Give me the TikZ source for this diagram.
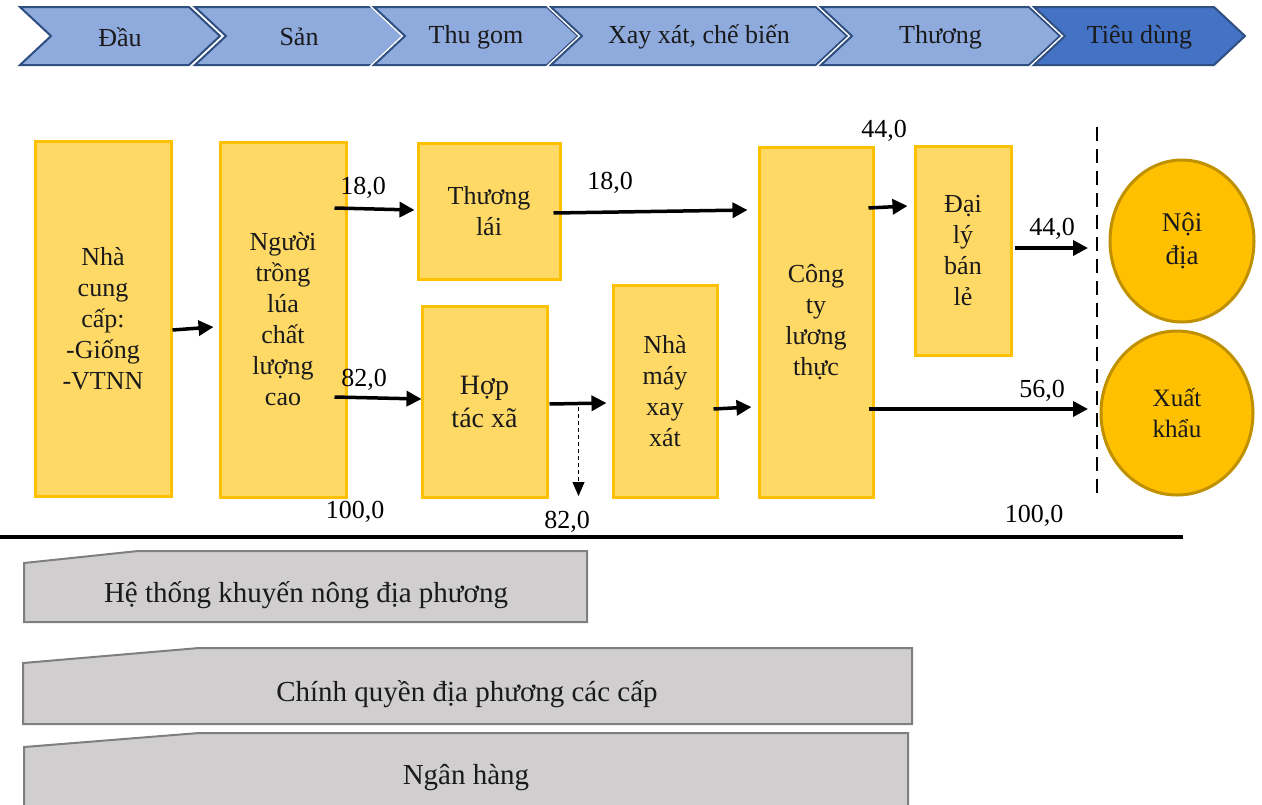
\documentclass[tikz,border=0pt]{standalone}
\usepackage{fontspec}
\setmainfont{Liberation Serif}
\usetikzlibrary{arrows.meta,shapes.geometric,calc}
\definecolor{chev}{HTML}{8FAADC}
\definecolor{chevdark}{HTML}{4472C4}
\definecolor{chevline}{HTML}{2F4F80}
\definecolor{yfill}{HTML}{FFD966}
\definecolor{yline}{HTML}{FFC000}
\definecolor{cfill}{HTML}{FFC000}
\definecolor{cline}{HTML}{BF9000}
\definecolor{gfill}{HTML}{D0CECE}
\definecolor{gline}{HTML}{7F7F7F}
\definecolor{txt}{HTML}{1A1A1A}
\begin{document}
\begin{tikzpicture}[x=1pt,y=-1pt,
  ybox/.style={draw=yline, fill=yfill, line width=3pt, align=center, inner sep=0pt, text=txt, font=\fontsize{26}{31}\selectfont},
  cnode/.style={ellipse, draw=cline, fill=cfill, line width=3pt, align=center, inner sep=0pt, text=txt},
  chevtxt/.style={text=txt, font=\fontsize{26}{31}\selectfont},
  lbl/.style={text=black, inner sep=0pt, font=\fontsize{26}{31}\selectfont},
  gtxt/.style={text=txt, inner sep=0pt, font=\fontsize{29}{34}\selectfont},
  arr/.style={line width=3.5pt, -{Triangle[length=15pt,width=15pt]}},
  darr/.style={line width=1pt, dashed, dash pattern=on 4pt off 3pt, -{Triangle[length=14pt,width=12pt]}},
  gbox/.style={fill=gfill, draw=gline, line width=2pt}
]
\useasboundingbox (0,0) rectangle (1262,804);

% top chevrons
\foreach \L/\T/\txt/\f [count=\i] in {20/220/Đầu/chev, 195/403/Sản/chev, 374/578/Thu gom/chev, 551/847/{Xay xát, chế biến}/chev, 821/1060/Thương/chev, 1034/1245/Tiêu dùng/chevdark}{
  \draw[white, line width=5pt, line join=miter] (\L,7) -- (\T-31,7) -- (\T,36) -- (\T-31,65) -- (\L,65) -- (\L+31,36) -- cycle;
  \filldraw[fill=\f, draw=chevline, line width=2pt, line join=miter] (\L,7) -- (\T-31,7) -- (\T,36) -- (\T-31,65) -- (\L,65) -- (\L+31,36) -- cycle;
  \node[chevtxt] (ch\i) at ({(\L+\T)/2},37) {\txt};
}

% yellow boxes
\node[ybox, minimum width=136pt, minimum height=355pt] (A) at (103,318.5) {Nhà\\cung\\cấp:\\-Giống\\-VTNN};
\node[ybox, minimum width=126pt, minimum height=355pt] (B) at (283,319.5) {Người\\trồng\\lúa\\chất\\lượng\\cao};
\node[ybox, minimum width=142pt, minimum height=136pt] (C) at (489,211) {Thương\\lái};
\node[ybox, minimum width=125pt, minimum height=191pt, font=\fontsize{28}{33}\selectfont] (D) at (484.5,401.5) {Hợp\\tác xã};
\node[ybox, minimum width=104pt, minimum height=212pt] (E) at (665,391) {Nhà\\máy\\xay\\xát};
\node[ybox, minimum width=114pt, minimum height=350pt] (F) at (816,322) {Công\\ty\\lương\\thực};
\node[ybox, minimum width=96pt, minimum height=209pt] (G) at (963,250.5) {Đại\\lý\\bán\\lẻ};

% consumer ellipses
\node[cnode, minimum width=144pt, minimum height=162pt, font=\fontsize{27}{33}\selectfont] (N) at (1182,241) {Nội\\địa};
\node[cnode, minimum width=152pt, minimum height=164pt, font=\fontsize{25}{31}\selectfont] (X) at (1177,413) {Xuất\\khẩu};

% dashed border
\coordinate (d1) at (1097,127);
\coordinate (d2) at (1097,496);
\draw[line width=2.5pt, dash pattern=on 14pt off 8pt] (d1) -- (d2);
\coordinate (t1) at (1088,248);
\coordinate (t2) at (1088,409);

% arrows
\draw[arr] (A.east |- 0,330) -- ([xshift=-5pt]B.west |- 0,327);
\draw[arr] ([xshift=-13pt]B.east |- 0,208) -- ([xshift=-2pt]C.west |- 0,210);
\draw[arr] ([xshift=-13pt]B.east |- 0,397) -- ([xshift=1pt]D.west |- 0,399);
\draw[arr] ([xshift=-8pt]C.east |- 0,213) -- ([xshift=-10pt]F.west |- 0,210);
\draw[arr] ([xshift=1pt]D.east |- 0,404) -- ([xshift=-5pt]E.west |- 0,403);
\draw[darr] ([xshift=30pt]D.east |- 0,407) -- ([xshift=30pt]D.east |- 0,496);
\draw[arr] ([xshift=-5pt]E.east |- 0,409) -- ([xshift=-6pt]F.west |- 0,407);
\draw[arr] ([xshift=-6pt]F.east |- 0,208) -- ([xshift=-6pt]G.west |- 0,206);
\draw[arr] ([xshift=2pt]G.east |- 0,248) -- (t1);
\draw[arr] ([xshift=-6pt]F.east |- 0,409) -- (t2);

% labels
\node[lbl] (l1) at (363,188) {18,0};
\node[lbl] (l2) at (364,380) {82,0};
\node[lbl] (l3) at (610,183) {18,0};
\node[lbl] (l4) at (884,131) {44,0};
\node[lbl] (l5) at (1052,229) {44,0};
\node[lbl] (l6) at (1042,391) {56,0};
\node[lbl] (l7) at (355,512) {100,0};
\node[lbl] (l8) at (567,522) {82,0};
\node[lbl] (l9) at (1034,516) {100,0};

% separator
\coordinate (s1) at (0,537);
\coordinate (s2) at (1183,537);
\draw[line width=4pt] (s1) -- (s2);

% support institutions
\draw[gbox] (24,563) -- (138,551) -- (587,551) -- (587,622) -- (24,622) -- cycle;
\node[gtxt] (g1) at (306,595) {Hệ thống khuyến nông địa phương};
\draw[gbox] (23,663) -- (199,648) -- (912,648) -- (912,724) -- (23,724) -- cycle;
\node[gtxt] (g2) at (467,694) {Chính quyền địa phương các cấp};
\draw[gbox] (24,747) -- (199,733) -- (908,733) -- (908,815) -- (24,815) -- cycle;
\node[gtxt] (g3) at (466,778) {Ngân hàng};
\end{tikzpicture}
\end{document}
